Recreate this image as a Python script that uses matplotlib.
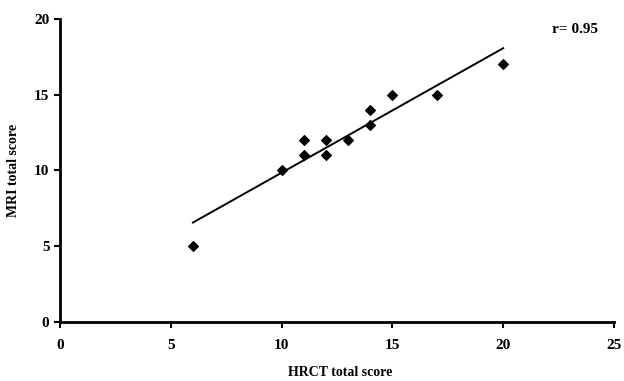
import numpy as np
import matplotlib
matplotlib.use("Agg")
import matplotlib.pyplot as plt

hrct = [6, 10, 11, 11, 12, 12, 13, 14, 14, 15, 17, 20]
mri = [5, 10, 12, 11, 12, 11, 12, 14, 13, 15, 15, 17]
r_label = "r= 0.95"
x_ticks = [0, 5, 10, 15, 20, 25]
y_ticks = [0, 5, 10, 15, 20]

plt.rcParams['font.family'] = ['Liberation Serif', 'DejaVu Serif']
plt.rcParams['font.weight'] = 'bold'

fig = plt.figure(figsize=(6.24, 3.81), dpi=100)
ax = fig.add_axes([0.096, 0.155, 0.888, 0.795])

ax.scatter(hrct, mri, marker='D', s=24, color='black', zorder=3)
slope, intercept = np.polyfit(hrct, mri, 1)
xs = np.array([min(hrct), max(hrct)])
ax.plot(xs, slope * xs + intercept, color='black', lw=1.4)

ax.set_xlim(0, 25)
ax.set_ylim(0, 20)
ax.set_xticks(x_ticks)
ax.set_yticks(y_ticks)
for s in ['top', 'right']:
    ax.spines[s].set_visible(False)
for s in ['left', 'bottom']:
    ax.spines[s].set_linewidth(2)
ax.tick_params(direction='out', width=1.5, length=4, labelsize=11)
ax.tick_params(axis='x', pad=8)
for lbl in ax.get_xticklabels() + ax.get_yticklabels():
    lbl.set_fontweight('bold')
ax.set_xlabel("HRCT total score", fontsize=10, fontweight='bold')
ax.set_ylabel("MRI total score", fontsize=10, fontweight='bold')
ax.text(22.2, 19.3, r_label, fontsize=11, fontweight='bold', va='center', ha='left')
ax.xaxis.set_label_coords(0.505, -0.145)
ax.yaxis.set_label_coords(-0.072, 0.5)

fig.savefig("out.png", dpi=100)
